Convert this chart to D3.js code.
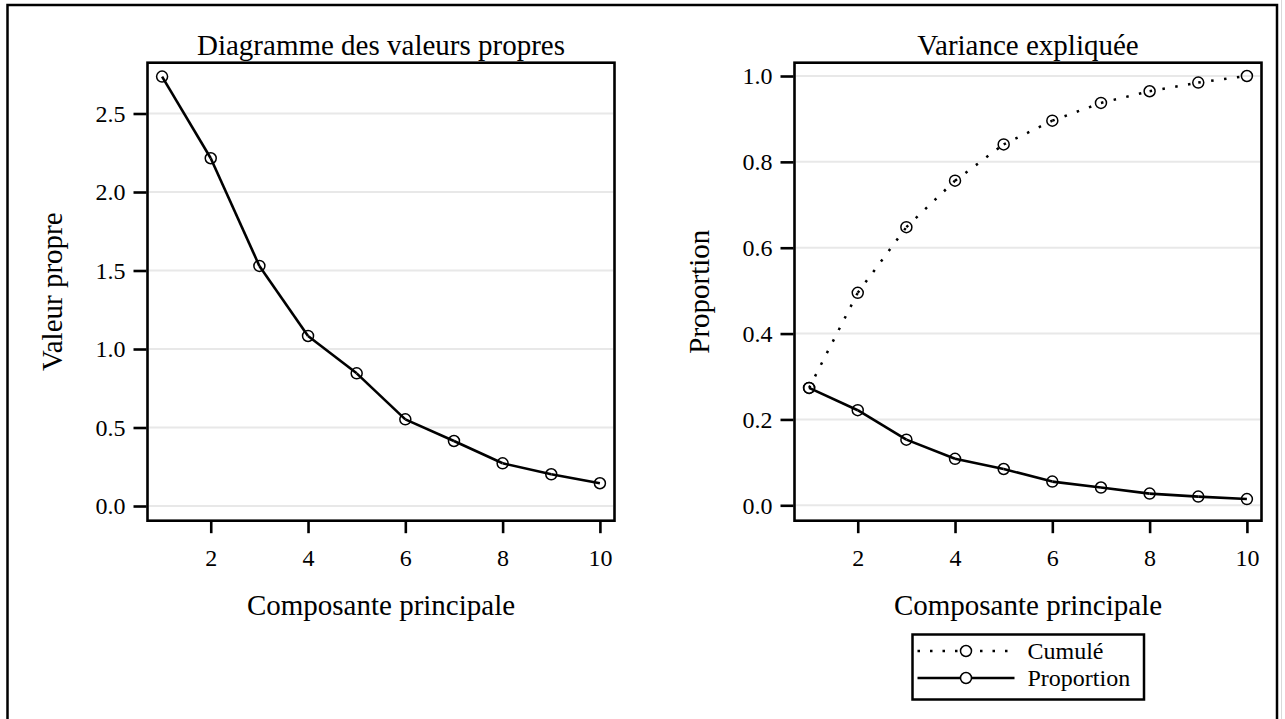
<!DOCTYPE html>
<html>
<head>
<meta charset="utf-8">
<script src="https://cdn.jsdelivr.net/npm/d3@7"></script>
<style>
  body { margin: 0; background: #fff; }
  svg text { font-family: "Liberation Serif", "Times New Roman", serif; fill: #000; }
</style>
</head>
<body>
<script>
// principal components
const components = [1, 2, 3, 4, 5, 6, 7, 8, 9, 10];
// eigenvalues
const eigenvalues = [2.735, 2.215, 1.529, 1.083, 0.845, 0.552, 0.414, 0.272, 0.202, 0.145];
// proportion of variance and cumulative proportion
const proportion = [0.2735, 0.2215, 0.1529, 0.1083, 0.0845, 0.0552, 0.0414, 0.0272, 0.0202, 0.0145];
const cumulative = [0.2735, 0.4950, 0.6479, 0.7562, 0.8407, 0.8959, 0.9373, 0.9645, 0.9847, 1.0000];

const xTicks = [2, 4, 6, 8, 10];
const eigenTicks = [0, 0.5, 1.0, 1.5, 2.0, 2.5];
const propTicks = [0, 0.2, 0.4, 0.6, 0.8, 1.0];

const legendLabels = ["Cumulé", "Proportion"];

var width = 1285, height = 719;
var frameTop = 62.7, frameH = 458, frameW = 467;
var serif = "'Liberation Serif', 'Times New Roman', serif";

var svg = d3.select("body").append("svg")
    .attr("width", width)
    .attr("height", height)
    .attr("font-family", serif);

// outer border (bottom edge runs off the picture)
svg.append("rect")
    .attr("x", 7.5).attr("y", 5)
    .attr("width", 1269.5).attr("height", 740)
    .attr("fill", "none")
    .attr("stroke", "#000")
    .attr("stroke-width", 2.5);
svg.append("line")
    .attr("x1", 1281.5).attr("x2", 1281.5).attr("y1", 0).attr("y2", height)
    .attr("stroke", "#d9d9d9").attr("stroke-width", 1);

function panel(left, title, yLabel, yDomain, yTickValues, series) {
    var g = svg.append("g").attr("transform", "translate(" + left + "," + frameTop + ")");

    var x = d3.scaleLinear().domain([0.7, 10.3]).range([0, frameW]);
    var y = d3.scaleLinear().domain(yDomain).range([frameH, 0]);

    // grid lines
    g.append("g")
        .selectAll("line")
        .data(yTickValues)
        .enter().append("line")
        .attr("x1", 1.5).attr("x2", frameW - 1.5)
        .attr("y1", d => y(d)).attr("y2", d => y(d))
        .attr("stroke", "#e8e8e8")
        .attr("stroke-width", 2);

    // y axis
    var yAxis = g.append("g")
        .call(d3.axisLeft(y).tickValues(yTickValues).tickSize(13).tickPadding(8).tickFormat(d3.format(".1f")));
    yAxis.attr("font-family", serif).attr("font-size", 24);
    yAxis.select(".domain").remove();
    yAxis.selectAll("line").attr("stroke-width", 2.6).attr("transform", "translate(-1,0)");
    yAxis.selectAll("text").attr("x", -22).attr("dy", "0.33em");

    // x axis
    var xAxis = g.append("g")
        .attr("transform", "translate(0," + frameH + ")")
        .call(d3.axisBottom(x).tickValues(xTicks).tickSize(12.5).tickFormat(d3.format("d")));
    xAxis.attr("font-family", serif).attr("font-size", 24);
    xAxis.select(".domain").remove();
    xAxis.selectAll("line").attr("stroke-width", 2.6);
    xAxis.selectAll("text").attr("y", 45.3).attr("dy", 0);

    // series
    series.forEach(function (s) {
        var pairs = d3.pairs(s.values.map((v, i) => [components[i], v]));
        g.append("g")
            .selectAll("line")
            .data(pairs)
            .enter().append("line")
            .attr("x1", d => x(d[0][0])).attr("y1", d => y(d[0][1]))
            .attr("x2", d => x(d[1][0])).attr("y2", d => y(d[1][1]))
            .attr("stroke", "#000")
            .attr("stroke-width", s.dotted ? 2.5 : 2.6)
            .attr("stroke-dasharray", s.dotted ? "2.5,10.5" : null);
        g.append("g")
            .selectAll("circle")
            .data(s.values)
            .enter().append("circle")
            .attr("cx", (d, i) => x(components[i]))
            .attr("cy", d => y(d))
            .attr("r", 5.5)
            .attr("fill", "none")
            .attr("stroke", "#000")
            .attr("stroke-width", 1.5);
    });

    // frame
    g.append("rect")
        .attr("width", frameW).attr("height", frameH)
        .attr("fill", "none")
        .attr("stroke", "#000")
        .attr("stroke-width", 2.6);

    // title and axis labels
    g.append("text")
        .attr("x", frameW / 2).attr("y", 55 - frameTop)
        .attr("text-anchor", "middle")
        .attr("font-size", 29)
        .text(title);
    g.append("text")
        .attr("x", frameW / 2).attr("y", 615 - frameTop)
        .attr("text-anchor", "middle")
        .attr("font-size", 29)
        .text("Composante principale");
    g.append("text")
        .attr("transform", "translate(-86," + (frameH / 2) + ") rotate(-90)")
        .attr("text-anchor", "middle")
        .attr("font-size", 29)
        .text(yLabel);
}

panel(147.5, "Diagramme des valeurs propres", "Valeur propre", [-0.0936, 2.8236], eigenTicks,
    [{ values: eigenvalues, dotted: false }]);

panel(794.5, "Variance expliquée", "Proportion", [-0.0359, 1.031], propTicks,
    [{ values: cumulative, dotted: true }, { values: proportion, dotted: false }]);

// legend
var legend = svg.append("g").attr("transform", "translate(912.5,634.5)");
legend.append("rect")
    .attr("width", 231.5).attr("height", 65)
    .attr("fill", "none")
    .attr("stroke", "#000")
    .attr("stroke-width", 2.5);

var rows = legend.selectAll("g.row")
    .data(legendLabels)
    .enter().append("g")
    .attr("class", "row")
    .attr("transform", (d, i) => "translate(0," + (16.5 + i * 27) + ")");

rows.append("line")
    .attr("x1", 5).attr("x2", 102)
    .attr("stroke", "#000")
    .attr("stroke-width", (d, i) => i === 0 ? 2.5 : 2.6)
    .attr("stroke-dasharray", (d, i) => i === 0 ? "2.5,10" : null);
rows.append("circle")
    .attr("cx", 53.5)
    .attr("r", 5.5)
    .attr("fill", "#fff")
    .attr("stroke", "#000")
    .attr("stroke-width", 1.5);
rows.append("text")
    .attr("x", 115)
    .attr("dy", "0.34em")
    .attr("font-size", 24)
    .text(d => d);
</script>
</body>
</html>
